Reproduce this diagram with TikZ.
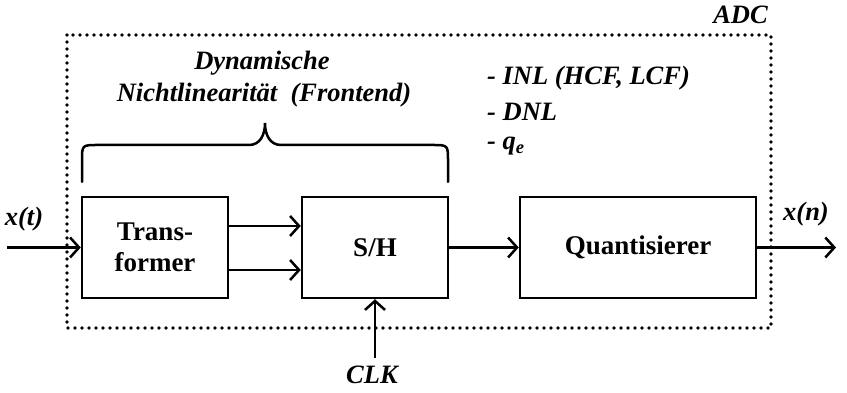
\documentclass[tikz,border=0pt]{standalone}
\usepackage{fontspec}
\setmainfont{Liberation Serif}
\usetikzlibrary{arrows.meta}
\tikzset{
  blk/.style={draw, line width=2.5pt, minimum height=101pt, inner sep=0pt, align=center, font=\fontsize{27}{31}\selectfont\bfseries},
  conn/.style={line width=2.5pt, -{Straight Barb[length=9pt,width=20pt,line width=2.5pt]}},
  lbl/.style={font=\fontsize{26.5}{32}\selectfont\bfseries\itshape, inner sep=0pt},
  dotbox/.style={line width=3.8pt, line cap=round, dash pattern=on 0pt off 7pt}
}
\begin{document}
\begin{tikzpicture}[x=1pt,y=1pt]
\useasboundingbox (0,0) rectangle (847,393);
\draw[dotbox] (67,358) rectangle (771,65);
\node[blk, minimum width=146pt] (tr) at (155,145.5) {Trans-\\former};
\node[blk, minimum width=146pt] (sh) at (375,145.5) {S/H};
\node[blk, minimum width=236pt] (q) at (638,145.5) {Quantisierer};
\coordinate (in) at (7,145.5);
\coordinate (out) at (836,145.5);
\coordinate (clk) at (375,35);
\draw[conn] (in) -- (tr.west);
\draw[conn] ([yshift=21.5pt]tr.east) -- ([yshift=21.5pt]sh.west);
\draw[conn] ([yshift=-22.5pt]tr.east) -- ([yshift=-22.5pt]sh.west);
\draw[conn] (sh.east) -- (q.west);
\draw[conn] (q.east) -- (out);
\draw[conn] (clk) -- (sh.south);
\node[lbl] (xt) at (24,174) {x(t)};
\node[lbl] (xn) at (806,179) {x(n)};
\node[lbl] (clkl) at (372,18) {CLK};
\node[lbl, anchor=east] (adc) at (768,378) {ADC};
\node[lbl] (dyn1) at (262,330) {Dynamische};
\node[lbl] (dyn2) at (264,298) {Nichtlinearität\ \ (Frontend)};
\node[lbl, anchor=west] (l1) at (487,315) {- INL (HCF, LCF)};
\node[lbl, anchor=west] (l2) at (487,281) {- DNL};
\node[lbl, anchor=west] (l3) at (487,247) {- q\textsubscript{e}};
\draw[line width=2.5pt, line cap=round]
  (82,211) -- (82,232) .. controls (82,248) and (82,248) .. (98,248)
  -- (249,248) .. controls (260,248) and (265,258) .. (265,270)
  .. controls (265,258) and (270,248) .. (281,248)
  -- (432,248) .. controls (448,248) and (448,248) .. (448,232) -- (448,211);
\end{tikzpicture}
\end{document}
